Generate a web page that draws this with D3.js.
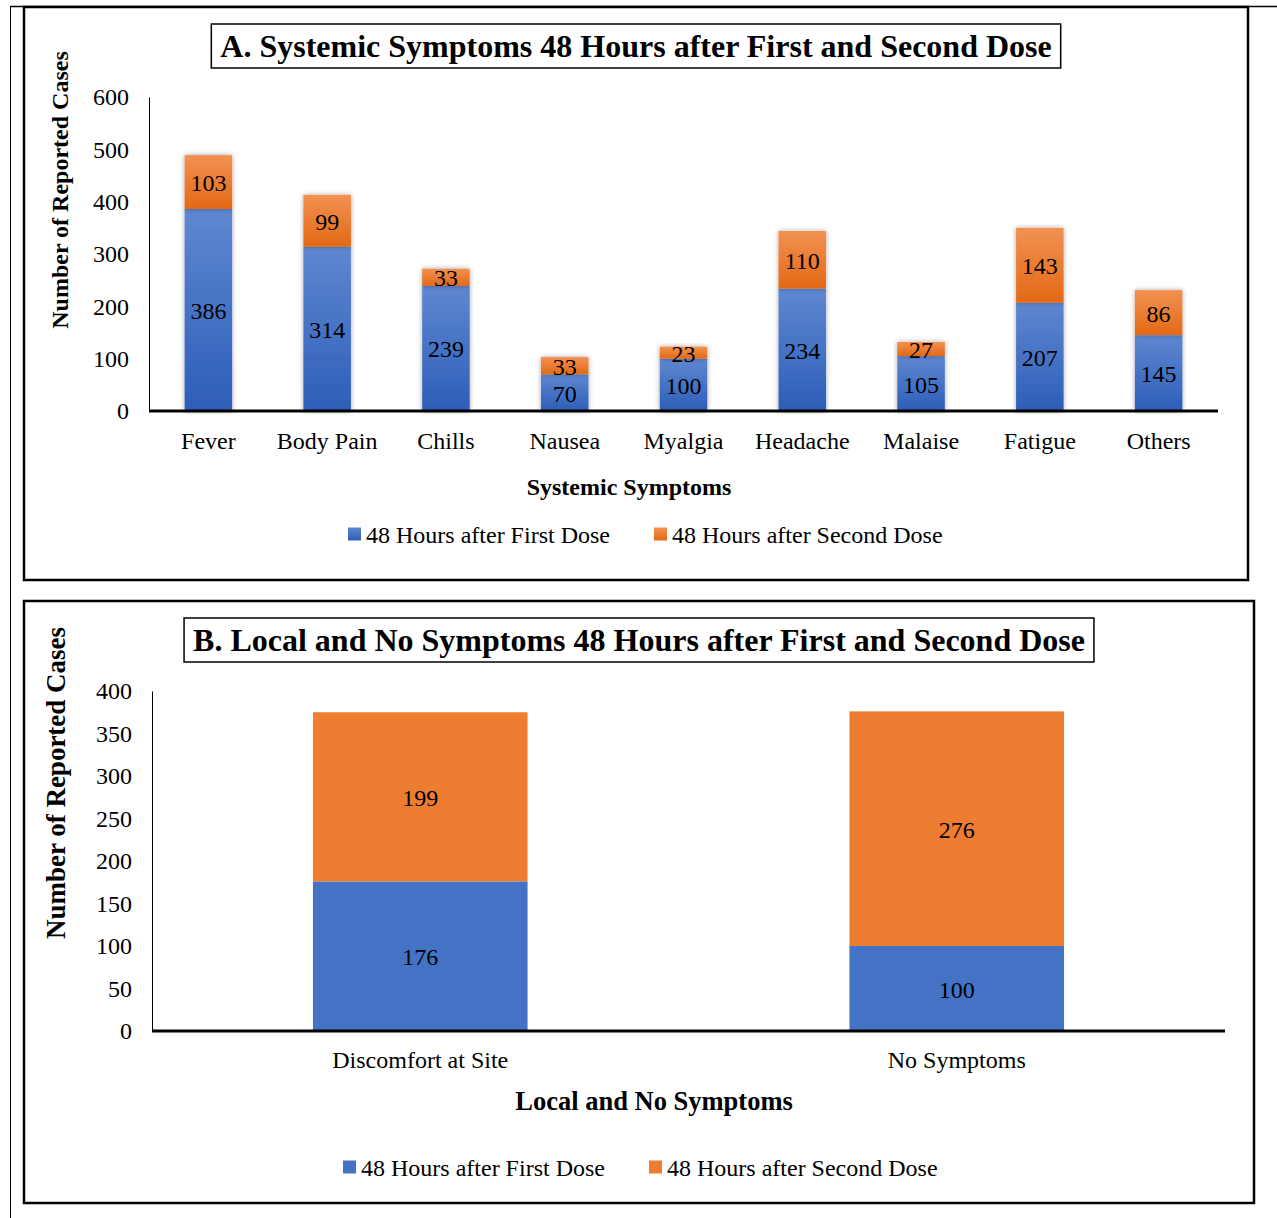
<!DOCTYPE html>
<html>
<head>
<meta charset="utf-8">
<script src="https://cdn.jsdelivr.net/npm/d3@7"></script>
<style>
  body { margin: 0; background: #fff; }
  svg text { font-family: "Liberation Serif", "Times New Roman", serif; fill: #000; }
</style>
</head>
<body>
<div id="chart"></div>
<script>
// panel A data
const symptomsA = ["Fever", "Body Pain", "Chills", "Nausea", "Myalgia", "Headache", "Malaise", "Fatigue", "Others"];
const firstDoseA = [386, 314, 239, 70, 100, 234, 105, 207, 145];
const secondDoseA = [103, 99, 33, 33, 23, 110, 27, 143, 86];
const ticksA = [0, 100, 200, 300, 400, 500, 600];

// panel B data
const symptomsB = ["Discomfort at Site", "No Symptoms"];
const firstDoseB = [176, 100];
const secondDoseB = [199, 276];
const ticksB = [0, 50, 100, 150, 200, 250, 300, 350, 400];

const seriesNames = ["48 Hours after First Dose", "48 Hours after Second Dose"];

const svg = d3.select('#chart').append('svg')
  .attr('width', 1277)
  .attr('height', 1218);

const defs = svg.append('defs');
const gBlue = defs.append('linearGradient').attr('id', 'gBlue').attr('x1', 0).attr('y1', 0).attr('x2', 0).attr('y2', 1);
gBlue.append('stop').attr('offset', '0%').attr('stop-color', '#5f87d1');
gBlue.append('stop').attr('offset', '100%').attr('stop-color', '#2d5eb8');
const gOrange = defs.append('linearGradient').attr('id', 'gOrange').attr('x1', 0).attr('y1', 0).attr('x2', 0).attr('y2', 1);
gOrange.append('stop').attr('offset', '0%').attr('stop-color', '#f29152');
gOrange.append('stop').attr('offset', '100%').attr('stop-color', '#e36915');
defs.append('filter').attr('id', 'shadow').attr('x', '-30%').attr('y', '-30%').attr('width', '160%').attr('height', '160%')
  .append('feDropShadow').attr('dx', 0).attr('dy', 0).attr('stdDeviation', 2.5)
  .attr('flood-color', '#000').attr('flood-opacity', 0.35);

// outer frame lines
svg.append('line').attr('x1', 10).attr('x2', 1277).attr('y1', 6.5).attr('y2', 6.5).attr('stroke', '#000').attr('stroke-width', 1.5);
svg.append('line').attr('x1', 10.5).attr('x2', 10.5).attr('y1', 6).attr('y2', 1218).attr('stroke', '#000').attr('stroke-width', 1);

function drawPanel(cfg) {
  // panel border
  svg.append('rect')
    .attr('x', cfg.box[0]).attr('y', cfg.box[1])
    .attr('width', cfg.box[2] - cfg.box[0]).attr('height', cfg.box[3] - cfg.box[1])
    .attr('fill', 'none').attr('stroke', '#000').attr('stroke-width', 2.5);

  // title with box
  const title = svg.append('text')
    .attr('x', cfg.titleX).attr('y', cfg.titleY)
    .attr('text-anchor', 'middle').attr('dominant-baseline', 'central')
    .attr('font-size', cfg.titleSize).attr('font-weight', 'bold')
    .text(cfg.title);
  const tb = title.node().getBBox();
  svg.append('rect')
    .attr('x', tb.x - 9).attr('y', cfg.titleY - 22)
    .attr('width', tb.width + 18).attr('height', 44)
    .attr('fill', 'none').attr('stroke', '#000').attr('stroke-width', 1.5);

  const x = d3.scaleBand()
    .domain(cfg.cats)
    .range([cfg.left, cfg.right])
    .paddingInner(cfg.pad).paddingOuter(cfg.pad / 2);
  const y = d3.scaleLinear()
    .domain([0, d3.max(cfg.ticks)])
    .range([cfg.bottom, cfg.top]);

  const rows = cfg.cats.map((c, i) => ({ cat: c, first: cfg.first[i], second: cfg.second[i] }));
  const stacked = d3.stack().keys(['first', 'second'])(rows);
  const fills = cfg.gradient ? ['url(#gBlue)', 'url(#gOrange)'] : ['#4472c4', '#ed7d31'];

  const g = svg.append('g');
  stacked.forEach((layer, li) => {
    g.selectAll(null)
      .data(layer)
      .enter().append('rect')
        .attr('x', d => x(d.data.cat))
        .attr('y', d => y(d[1]))
        .attr('width', x.bandwidth())
        .attr('height', d => y(d[0]) - y(d[1]))
        .attr('fill', fills[li])
        .attr('filter', cfg.gradient ? 'url(#shadow)' : null);
  });
  stacked.forEach(layer => {
    g.selectAll(null)
      .data(layer)
      .enter().append('text')
        .attr('x', d => x(d.data.cat) + x.bandwidth() / 2)
        .attr('y', d => (y(d[0]) + y(d[1])) / 2 + 1)
        .attr('text-anchor', 'middle').attr('dominant-baseline', 'central')
        .attr('font-size', 24)
        .text(d => d[1] - d[0]);
  });

  // y axis
  const ya = svg.append('g')
    .attr('transform', `translate(${cfg.left},0)`)
    .call(d3.axisLeft(y).tickValues(cfg.ticks).tickSize(0).tickPadding(20));
  ya.select('.domain').attr('stroke', '#000').attr('stroke-width', 1);
  ya.selectAll('text').attr('font-size', 24).attr('font-family', '"Liberation Serif", serif');

  // x axis
  const xa = svg.append('g')
    .attr('transform', `translate(0,${cfg.bottom})`)
    .call(d3.axisBottom(x).tickSize(0).tickPadding(cfg.xPad));
  xa.select('.domain').attr('stroke', '#000').attr('stroke-width', 3)
    .attr('d', `M${cfg.left},0H${cfg.axisEnd}`);
  xa.selectAll('text').attr('font-size', 24).attr('font-family', '"Liberation Serif", serif');

  // axis titles
  svg.append('text')
    .attr('transform', `translate(${cfg.yLabelX},${cfg.yLabelY}) rotate(-90)`)
    .attr('text-anchor', 'middle').attr('dominant-baseline', 'central')
    .attr('font-size', cfg.yLabelSize).attr('font-weight', 'bold')
    .text('Number of Reported Cases');
  svg.append('text')
    .attr('x', cfg.xLabelX).attr('y', cfg.xLabelY)
    .attr('text-anchor', 'middle').attr('dominant-baseline', 'central')
    .attr('font-size', cfg.xLabelSize).attr('font-weight', 'bold')
    .text(cfg.xLabel);

  // legend
  const lg = svg.append('g');
  seriesNames.forEach((name, i) => {
    const lx = cfg.legendX[i];
    lg.append('rect')
      .attr('x', lx).attr('y', cfg.legendY - 6.5)
      .attr('width', 13).attr('height', 13)
      .attr('fill', fills[i]);
    lg.append('text')
      .attr('x', lx + 18).attr('y', cfg.legendY + 1)
      .attr('dominant-baseline', 'central')
      .attr('font-size', 24)
      .text(name);
  });
}

drawPanel({
  box: [24, 7, 1248, 580],
  title: 'A. Systemic Symptoms 48 Hours after First and Second Dose',
  titleX: 636, titleY: 46, titleSize: 32,
  cats: symptomsA, first: firstDoseA, second: secondDoseA, ticks: ticksA,
  left: 149, right: 1218, axisEnd: 1218, top: 97, bottom: 411,
  pad: 0.6, gradient: true, xPad: 21,
  yLabelX: 60, yLabelY: 190, yLabelSize: 24,
  xLabel: 'Systemic Symptoms', xLabelX: 629, xLabelY: 487, xLabelSize: 24,
  legendX: [348, 654], legendY: 534
});

drawPanel({
  box: [24, 601, 1254, 1203],
  title: 'B. Local and No Symptoms 48 Hours after First and Second Dose',
  titleX: 639, titleY: 640, titleSize: 32,
  cats: symptomsB, first: firstDoseB, second: secondDoseB, ticks: ticksB,
  left: 152, right: 1225, axisEnd: 1225, top: 691, bottom: 1031,
  pad: 0.6, gradient: false, xPad: 20,
  yLabelX: 56, yLabelY: 783, yLabelSize: 27,
  xLabel: 'Local and No Symptoms', xLabelX: 654, xLabelY: 1101, xLabelSize: 26.5,
  legendX: [343, 649], legendY: 1167
});
</script>
</body>
</html>
